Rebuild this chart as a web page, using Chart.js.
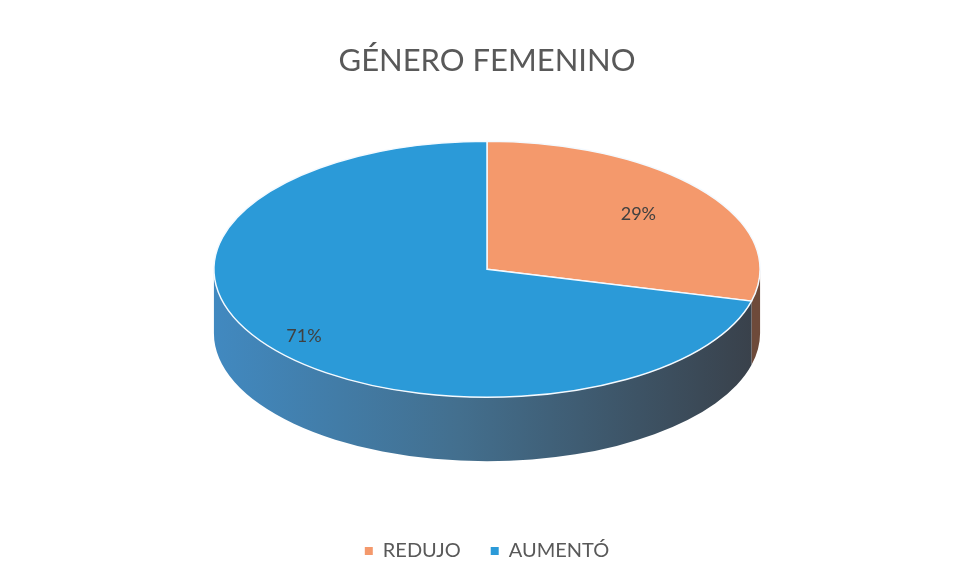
<!DOCTYPE html>
<html>
<head>
<meta charset="utf-8">
<script src="https://cdn.jsdelivr.net/npm/chart.js@4/dist/chart.umd.min.js"></script>
<style>
  html, body { margin: 0; padding: 0; background: #fff; }
  #wrap { width: 953px; height: 578px; }
</style>
</head>
<body>
<div id="wrap"><canvas id="chart" width="953" height="578"></canvas></div>
<script>
// chart data
const categories = ["REDUJO", "AUMENTÓ"];
const percentages = [29, 71];
const sliceColors = ["#F4996C", "#2B9AD8"];

// 3D look, relative to the chart area width
const RX = 0.293;    // half width of the pie top
const RY = 0.469;    // squash, relative to RX
const DEPTH = 0.234; // side thickness, relative to RX

const pie3d = {
  id: "pie3d",
  beforeDatasetsDraw(chart) {
    const ctx = chart.ctx;
    const area = chart.chartArea;
    const meta = chart.getDatasetMeta(0);
    const first = meta.data[0];
    const rx = (area.right - area.left) * RX;
    const ry = rx * RY, depth = rx * DEPTH;
    const cx = first.x;
    const cy = area.top + ry;

    ctx.save();
    // side wall, only the front half shows
    const grad = ctx.createLinearGradient(cx - rx, 0, cx + rx, 0);
    grad.addColorStop(0, "#4189C0");
    grad.addColorStop(0.45, "#436F8E");
    grad.addColorStop(1, "#394049");
    meta.data.forEach((arc, i) => {
      const s = Math.max(arc.startAngle, 0);
      const e = Math.min(arc.endAngle, Math.PI);
      if (e <= s) return;
      ctx.beginPath();
      ctx.ellipse(cx, cy, rx, ry, 0, s, e);
      ctx.ellipse(cx, cy + depth, rx, ry, 0, e, s, true);
      ctx.closePath();
      ctx.fillStyle = i === 0 ? "#6E4A3A" : grad;
      ctx.fill();
    });

    // top faces
    meta.data.forEach((arc, i) => {
      ctx.beginPath();
      ctx.moveTo(cx, cy);
      ctx.ellipse(cx, cy, rx, ry, 0, arc.startAngle, arc.endAngle);
      ctx.closePath();
      ctx.fillStyle = sliceColors[i];
      ctx.fill();
      ctx.lineWidth = 1.5;
      ctx.strokeStyle = "#F4FAFF";
      ctx.stroke();
    });

    // percentage labels, bigger slices put them further out
    ctx.font = "18px Lato";
    ctx.fillStyle = "#404040";
    ctx.textAlign = "center";
    ctx.textBaseline = "middle";
    meta.data.forEach((arc, i) => {
      const mid = (arc.startAngle + arc.endAngle) / 2;
      const frac = (arc.endAngle - arc.startAngle) / (2 * Math.PI);
      const r = 0.6 + 0.35 * frac;
      const x = cx + Math.cos(mid) * rx * r;
      const y = cy + Math.sin(mid) * ry * r;
      ctx.fillText(percentages[i] + "%", x, y);
    });
    ctx.restore();
    return false;
  }
};

new Chart(document.getElementById("chart"), {
  type: "pie",
  data: {
    labels: categories,
    datasets: [{
      data: percentages,
      backgroundColor: sliceColors,
      borderWidth: 0
    }]
  },
  options: {
    responsive: false,
    animation: false,
    layout: { padding: { left: 21, bottom: 7 } },
    plugins: {
      title: {
        display: true,
        text: "GÉNERO FEMENINO",
        color: "#595959",
        font: { family: "Lato", size: 31, weight: "normal" },
        padding: { top: 42, bottom: 62 }
      },
      legend: {
        position: "bottom",
        labels: {
          color: "#595959",
          font: { family: "Lato", size: 20 },
          boxWidth: 8,
          boxHeight: 8,
          padding: 30
        }
      },
      tooltip: { enabled: false }
    }
  },
  plugins: [pie3d]
});
</script>
</body>
</html>
